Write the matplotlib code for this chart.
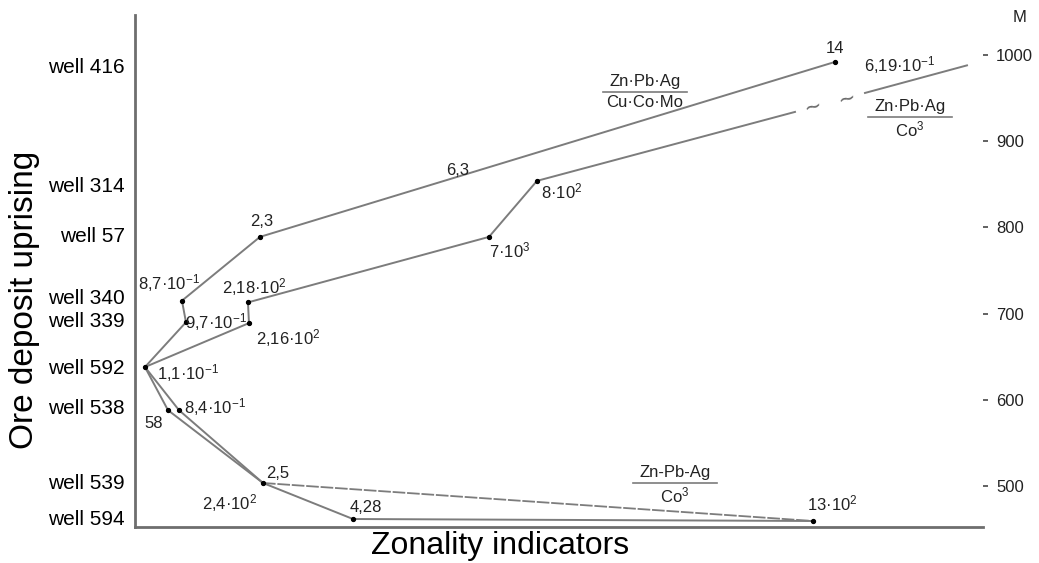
import matplotlib.pyplot as plt

plt.rcParams['font.family'] = ['Liberation Sans', 'DejaVu Sans']
plt.rcParams['mathtext.fontset'] = 'custom'
plt.rcParams['mathtext.rm'] = 'Liberation Sans'
plt.rcParams['mathtext.it'] = 'Liberation Sans'
plt.rcParams['mathtext.bf'] = 'Liberation Sans:bold'

# wells and their height (m)
wells = ['well 416', 'well 314', 'well 57', 'well 340', 'well 339',
         'well 592', 'well 538', 'well 539', 'well 594']
well_h = [986, 848, 789, 717, 691, 636, 590, 503, 461]

# position along the indicator axis (no scale) and height in m
cu_x = [10, 51, 47, 125, 700]
cu_y = [638, 690, 715, 789, 992]

co_x = [10, 114, 113, 354, 402, 660]
co_y = [638, 689, 713, 789, 854, 934]
co_tail_x = [730, 832]
co_tail_y = [956, 988]
break_x = [678, 712]
break_y = [940, 950]

low1_x = [10, 33, 128, 218, 678]
low1_y = [638, 588, 503.5, 461.7, 459.4]
low2_x = [10, 44, 128]
low2_y = [638, 588, 503.5]
low2_tail_x = [128, 678]
low2_tail_y = [503.5, 459.4]

# value labels: text, x, y
labels = [
    ('14', 700, 1008),
    ('6,3', 323, 866.6),
    ('2,3', 127, 807.4),
    ('8,7·10$^{-1}$', 34, 735.5),
    ('9,7·10$^{-1}$', 81, 690),
    ('2,18·10$^{2}$', 119, 731),
    ('2,16·10$^{2}$', 153, 671.7),
    ('1,1·10$^{-1}$', 53, 631),
    ('8,4·10$^{-1}$', 80, 591.6),
    ('58', 19, 572),
    ('2,5', 143, 514),
    ('2,4·10$^{2}$', 95, 480.3),
    ('4,28', 231, 474.5),
    ('13·10$^{2}$', 697, 480.3),
    ('7·10$^{3}$', 375, 773.8),
    ('8·10$^{2}$', 427, 842),
    ('6,19·10$^{-1}$', 765, 988.4),
]

# ratio labels: numerator, denominator, x, y
ratios = [
    ('Zn·Pb·Ag', 'Cu·Co·Mo', 510, 957),
    ('Zn·Pb·Ag', 'Co$^{3}$', 775, 928),
    ('Zn-Pb-Ag', 'Co$^{3}$', 540, 503.5),
]

heights = [500, 600, 700, 800, 900, 1000]

line_c = '#7c7c7c'
text_c = '#222222'

fig = plt.figure(figsize=(10.39, 5.63), dpi=100)
ax = fig.add_axes([0.1299, 0.0639, 0.8162, 0.9094])
ax.set_xlim(0, 848)
ax.set_ylim(452.4, 1046.4)

ax.plot(cu_x, cu_y, color=line_c, lw=1.4)
ax.plot(co_x, co_y, color=line_c, lw=1.4)
ax.plot(co_tail_x, co_tail_y, color=line_c, lw=1.4)
ax.plot(low1_x, low1_y, color=line_c, lw=1.4)
ax.plot(low2_x, low2_y, color=line_c, lw=1.4)
ax.plot(low2_tail_x, low2_tail_y, color=line_c, lw=1.3, linestyle=(0, (7, 1)))

# dots
ax.plot(cu_x, cu_y, 'o', color='black', ms=2.8, ls='none')
ax.plot(co_x[1:5], co_y[1:5], 'o', color='black', ms=2.8, ls='none')
ax.plot(low1_x[1:], low1_y[1:], 'o', color='black', ms=2.8, ls='none')
ax.plot(low2_x[1:2], low2_y[1:2], 'o', color='black', ms=2.8, ls='none')

# break marks
for bx, by in zip(break_x, break_y):
    ax.text(bx, by, '~', fontsize=15, family='DejaVu Sans', color='#666666',
            ha='center', va='center', rotation=15)

for t, x, y in labels:
    ax.text(x, y, t, fontsize=12, color=text_c, ha='center', va='center')

for num, den, x, y in ratios:
    ax.annotate(num, (x, y), xytext=(0, 2), textcoords='offset points',
                ha='center', va='bottom', fontsize=12, color=text_c)
    ax.annotate(den, (x, y), xytext=(0, -2), textcoords='offset points',
                ha='center', va='top', fontsize=12, color=text_c)
    ax.plot([x - 42, x + 42], [y, y], color=line_c, lw=1.2)

for name, h in zip(wells, well_h):
    ax.text(-10, h, name, fontsize=15, color='black', ha='right', va='center')

ax.text(885, 1043, 'M', fontsize=12, color=text_c, ha='center', va='center')

ax.spines['top'].set_visible(False)
ax.spines['right'].set_visible(False)
for s in ['left', 'bottom']:
    ax.spines[s].set_color('#6e6e6e')
    ax.spines[s].set_linewidth(2)

ax.set_xticks([])
ax.yaxis.tick_right()
ax.set_yticks(heights)
ax.set_yticklabels([str(h) for h in heights], fontsize=12, color=text_c)
ax.tick_params(axis='y', direction='out', length=3.5, width=1.3,
               color='#555555', pad=6)

ax.set_xlabel('Zonality indicators', fontsize=23, va='center')
ax.xaxis.set_label_coords(0.43, -0.037)
fig.text(25 / 1039, 1 - 300 / 563, 'Ore deposit uprising', fontsize=24,
         rotation=90, ha='center', va='center')

fig.savefig('out.png', dpi=100)
